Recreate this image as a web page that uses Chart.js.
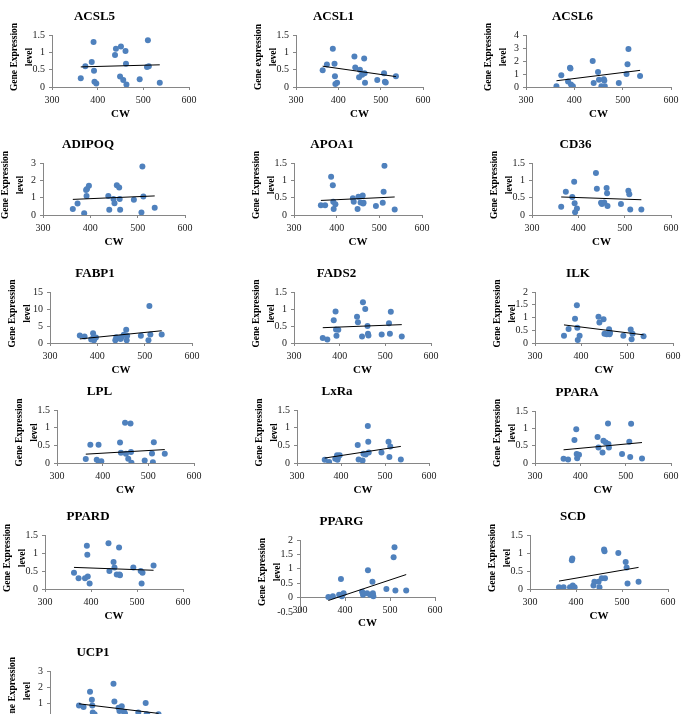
<!DOCTYPE html>
<html>
<head>
<meta charset="utf-8">
<script src="https://cdn.jsdelivr.net/npm/chart.js@4.4.0/dist/chart.umd.min.js"></script>
<style>
  body { margin: 0; background: #fff; width: 687px; height: 714px; overflow: hidden; position: relative; }
  canvas { position: absolute; }
</style>
</head>
<body>
<script>
// carcass weight of the 20 animals (shared by every panel)
const cw = [363, 373, 387, 391, 392, 393, 397, 438, 440, 449, 451, 456, 461, 462, 463, 492, 508, 510, 512, 536];

const genes = ['ACSL5', 'ACSL1', 'ACSL6', 'ADIPOQ', 'APOA1', 'CD36', 'FABP1', 'FADS2', 'ILK',
               'LPL', 'LxRa', 'PPARA', 'PPARD', 'PPARG', 'SCD', 'UCP1'];

const ACSL5  = [0.25, 0.6, 0.72, 1.3, 0.47, 0.15, 0.1, 0.92, 1.1, 0.3, 1.17, 0.2, 1.04, 0.67, 0.07, 0.22, 0.58, 1.35, 0.6, 0.12];
const ACSL1  = [0.48, 0.65, 1.1, 0.67, 0.31, 0.09, 0.12, 0.88, 0.56, 0.28, 0.5, 0.35, 0.82, 0.4, 0.12, 0.2, 0.4, 0.15, 0.13, 0.31];
const ACSL6  = [0.05, 0.9, 0.43, 1.48, 1.42, 0.2, 0.05, 2.0, 0.3, 1.15, 0.55, 0.05, 0.6, 0.5, 0.05, 0.3, 1.0, 1.75, 2.92, 0.85];
const ADIPOQ = [0.35, 0.67, 0.1, 1.44, 1.1, 1.5, 1.69, 1.1, 0.3, 0.92, 0.68, 1.72, 1.58, 0.92, 0.3, 0.88, 0.15, 2.8, 1.07, 0.42];
const APOA1  = [0.28, 0.28, 1.1, 0.86, 0.38, 0.17, 0.31, 0.48, 0.38, 0.17, 0.53, 0.36, 0.56, 0.33, 0.35, 0.26, 0.35, 0.67, 1.42, 0.16];
const CD36   = [0.24, 0.67, 0.52, 0.96, 0.34, 0.08, 0.19, 1.21, 0.76, 0.35, 0.32, 0.36, 0.78, 0.63, 0.26, 0.32, 0.7, 0.6, 0.16, 0.16];
const FABP1  = [2.2, 1.9, 1.0, 2.9, 1.7, 0.8, 1.6, 0.8, 1.7, 1.2, 1.7, 2.4, 3.9, 0.8, 2.1, 2.1, 0.8, 10.9, 2.5, 2.5];
const FADS2  = [0.15, 0.1, 0.67, 0.93, 0.4, 0.21, 0.39, 0.77, 0.61, 0.19, 1.2, 1.0, 0.5, 0.27, 0.22, 0.25, 0.58, 0.27, 0.92, 0.19];
const ILK    = [0.28, 0.55, 0.95, 1.48, 0.6, 0.12, 0.28, 1.03, 0.8, 0.93, 0.36, 0.34, 0.54, 0.34, 0.4, 0.28, 0.53, 0.15, 0.36, 0.26];
const LPL    = [0.11, 0.52, 0.09, 0.52, 0.03, 0.0, 0.05, 0.58, 0.29, 1.14, 0.26, 0.12, 1.12, 0.31, 0.01, 0.07, 0.27, 0.02, 0.59, 0.26];
const LXRA   = [0.09, 0.03, 0.12, 0.22, 0.09, 0.15, 0.22, 0.51, 0.1, 0.07, 0.26, 0.24, 1.05, 0.6, 0.3, 0.3, 0.6, 0.17, 0.47, 0.1];
const PPARA  = [0.12, 0.1, 0.66, 0.97, 0.26, 0.14, 0.24, 0.75, 0.45, 0.3, 0.64, 0.59, 1.14, 0.55, 0.45, 0.26, 0.61, 0.17, 1.13, 0.13];
const PPARD  = [0.45, 0.3, 0.3, 1.2, 0.95, 0.35, 0.15, 1.27, 0.5, 0.75, 0.6, 0.4, 1.15, 0.4, 0.38, 0.6, 0.5, 0.15, 0.45, 0.65];
const PPARG  = [0.02, 0.05, 0.1, 0.65, 0.1, 0.05, 0.15, 0.2, 0.1, 0.15, 0.95, 0.1, 0.55, 0.15, 0.05, 0.3, 1.4, 1.75, 0.25, 0.25];
const SCD    = [0.05, 0.05, 0.05, 0.8, 0.85, 0.1, 0.05, 0.1, 0.2, 0.2, 0.05, 0.3, 1.1, 1.05, 0.3, 1.0, 0.75, 0.6, 0.15, 0.2];
const UCP1   = [0.85, 0.75, 1.7, 1.2, 0.85, 0.4, 0.3, 2.2, 1.1, 0.7, 0.5, 0.8, 0.45, 0.3, 0.35, 0.4, 1.0, 0.3, 0.25, 0.3];

const expression = [ACSL5, ACSL1, ACSL6, ADIPOQ, APOA1, CD36, FABP1, FADS2, ILK, LPL, LXRA, PPARA, PPARD, PPARG, SCD, UCP1];

// linear trendline read at the lowest and highest CW
const trendLow  = [0.58, 0.6, 0.48, 0.9, 0.42, 0.52, 1.2, 0.45, 0.71, 0.25, 0.14, 0.38, 0.6, -0.1, 0.22, 0.95];
const trendHigh = [0.64, 0.3, 1.28, 1.1, 0.52, 0.44, 3.6, 0.54, 0.32, 0.38, 0.47, 0.59, 0.52, 0.8, 0.6, 0.35];

// y axis ranges
const yMin  = [0, 0, 0, 0, 0, 0, 0, 0, 0, 0, 0, 0, 0, -0.5, 0, 0];
const yMax  = [1.5, 1.5, 4, 3, 1.5, 1.5, 15, 1.5, 2, 1.5, 1.5, 1.5, 1.5, 2, 1.5, 3];
const yStep = [0.5, 0.5, 1, 1, 0.5, 0.5, 5, 0.5, 0.5, 0.5, 0.5, 0.5, 0.5, 0.5, 0.5, 1];
const xTicks = [300, 400, 500, 600];

// plot areas on the page: [left, top, right, bottom]
const boxes = [
  [52, 35, 189, 87], [296, 35, 423, 87], [526, 35, 671, 87],
  [43, 163, 185, 215], [294, 163, 422, 215], [532, 163, 671, 215],
  [50, 292, 192, 343], [294, 292, 431, 343], [535, 292, 673, 343],
  [57, 410, 194, 463], [297, 410, 429, 463], [535, 411, 671, 463],
  [45, 535, 183, 589], [300, 540, 435, 612], [530, 535, 668, 589],
  [50, 671, 188, 719]
];

const SERIF = '"Liberation Serif", "Times New Roman", serif';
const AXIS = '#868686';
const fmt = v => String(Math.round(v * 100) / 100);

// y axis title drawn by hand so the long label is not squeezed to the plot height
const yTitlePlugin = {
  id: 'yTitle',
  afterDraw(chart, args, opts) {
    const { ctx, chartArea: a } = chart;
    const cy = (a.top + a.bottom) / 2 - 4;
    ctx.save();
    ctx.font = 'bold 9.5px ' + SERIF;
    ctx.fillStyle = '#000';
    ctx.textAlign = 'center';
    ctx.textBaseline = 'middle';
    opts.lines.forEach((t, k) => {
      ctx.save();
      ctx.translate(a.left - 37 + k * 15, cy);
      ctx.rotate(-Math.PI / 2);
      ctx.fillText(t, 0, 0);
      ctx.restore();
    });
    ctx.restore();
  }
};

genes.forEach((name, i) => {
  const [L, T, R, B] = boxes[i];
  const crosses = yMin[i] < 0;          // x axis sits on y = 0
  const below = crosses ? 18 : 34;
  const c = document.createElement('canvas');
  const w = R - L + 62, h = B - T + 36 + below;
  c.width = w; c.height = h;
  c.style.left = (L - 52) + 'px';
  c.style.top = (T - 36) + 'px';
  c.style.width = w + 'px';
  c.style.height = h + 'px';
  document.body.appendChild(c);

  const pts = cw.map((x, k) => ({ x: x, y: expression[i][k] }));
  const trend = [{ x: cw[0], y: trendLow[i] }, { x: cw[cw.length - 1], y: trendHigh[i] }];

  new Chart(c, {
    type: 'scatter',
    data: {
      datasets: [
        { type: 'line', data: trend, borderColor: '#000', borderWidth: 1, pointRadius: 0, fill: false },
        { data: pts, backgroundColor: '#4F81BD', borderWidth: 0, pointRadius: 3 }
      ]
    },
    options: {
      responsive: false,
      animation: false,
      layout: { padding: { top: 0, left: 0, right: 10, bottom: crosses ? 18 : 0 } },
      plugins: {
        legend: { display: false },
        tooltip: { enabled: false },
        title: {
          display: true, text: name, color: '#000',
          font: { family: SERIF, size: 13, weight: 'bold' },
          padding: { top: 10, bottom: 10.4 }
        },
        yTitle: { lines: [name === 'ACSL1' ? 'Gene expression' : 'Gene Expression', 'level'] }
      },
      scales: {
        x: {
          type: 'linear',
          position: crosses ? { y: 0 } : 'bottom',
          min: xTicks[0], max: xTicks[xTicks.length - 1],
          afterBuildTicks: s => { s.ticks = xTicks.map(v => ({ value: v })); },
          ticks: { color: '#222', padding: 4, maxRotation: 0, autoSkip: false, callback: fmt, font: { family: SERIF, size: 10 } },
          grid: { drawOnChartArea: false, tickLength: 3, color: AXIS },
          border: { color: AXIS },
          title: { display: true, text: 'CW', color: '#000', padding: 0, font: { family: SERIF, size: 11, weight: 'bold' } },
          afterFit: s => { s.height = crosses ? 32 : 34; s.paddingLeft = 0; s.paddingRight = 0; }
        },
        y: {
          min: yMin[i], max: yMax[i],
          ticks: { stepSize: yStep[i], color: '#222', padding: 4, autoSkip: false, callback: fmt, font: { family: SERIF, size: 10 } },
          grid: { drawOnChartArea: false, tickLength: 3, color: AXIS },
          border: { color: AXIS },
          afterFit: s => { s.width = 52; s.paddingTop = 0; s.paddingBottom = 0; }
        }
      }
    },
    plugins: [yTitlePlugin]
  });
});
</script>
</body>
</html>
